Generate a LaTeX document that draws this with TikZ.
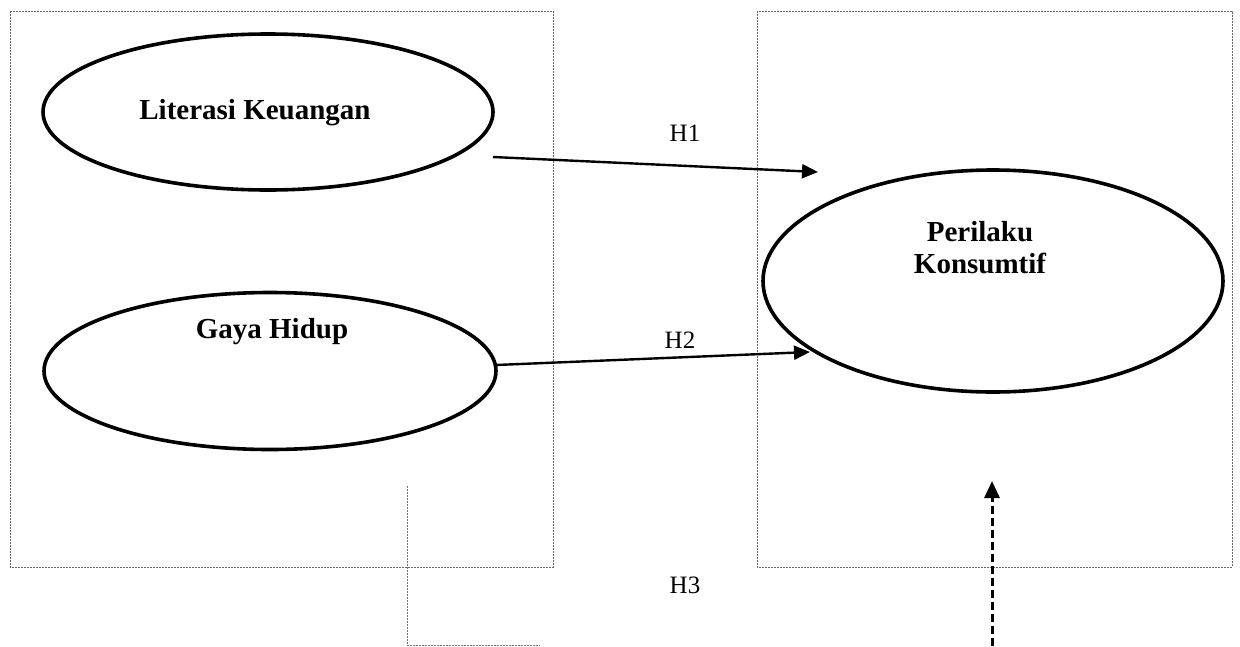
\documentclass[tikz,border=0pt]{standalone}
\usepackage{fontspec}
\setmainfont{Liberation Serif}
\usetikzlibrary{arrows.meta,shapes.geometric}
\begin{document}
\begin{tikzpicture}[x=1pt,y=-1pt,
  frame/.style={draw=black!60,line width=1pt,dash pattern=on 2pt off 1pt},
  var/.style={draw,ellipse,line width=3.6pt},
  vtext/.style={font=\fontsize{29}{32}\selectfont\bfseries,align=center},
  htext/.style={font=\fontsize{25}{30}\selectfont},
  arr/.style={line width=2.4pt,-{Triangle[length=16pt,width=14pt]}},
  darr/.style={line width=3pt,dash pattern=on 8pt off 4pt,-{Triangle[length=17pt,width=15pt]}},
  dot/.style={draw=black!55,line width=1pt,dash pattern=on 2pt off 1pt}]
\useasboundingbox (0,0) rectangle (1240,646);
% frames
\draw[frame] (10,11) rectangle (553,567);
\draw[frame] (757,11) rectangle (1232,567);
% ellipses
\node[var,minimum width=450pt,minimum height=156pt] (lk) at (268,112) {};
\node[var,minimum width=452pt,minimum height=157pt] (gh) at (270,371) {};
\node[var,minimum width=460pt,minimum height=222pt] (pk) at (993,281) {};
% texts
\node[vtext] (tlk) at (255,113) {Literasi Keuangan};
\node[vtext] (tgh) at (272,332) {Gaya Hidup};
\node[vtext] (tpk) at (980,248) {Perilaku\\Konsumtif};
% arrows
\coordinate (a1s) at (493,157);
\coordinate (a1e) at (818,172);
\coordinate (a2s) at (496,365);
\coordinate (a2e) at (810,352);
\draw[arr] (a1s) -- (a1e);
\draw[arr] (a2s) -- (a2e);
\node[htext] (h1) at (685,133) {H1};
\node[htext] (h2) at (680,340) {H2};
\node[htext] (h3) at (685,585) {H3};
% H3 connector
\coordinate (d1) at (407,486);
\coordinate (d2) at (407,645);
\coordinate (d3) at (540,645);
\draw[dot] (d1) -- (d2) -- (d3);
\coordinate (e1) at (992,646);
\coordinate (e2) at (992,481);
\draw[darr] (e1) -- (e2);
\end{tikzpicture}
\end{document}
